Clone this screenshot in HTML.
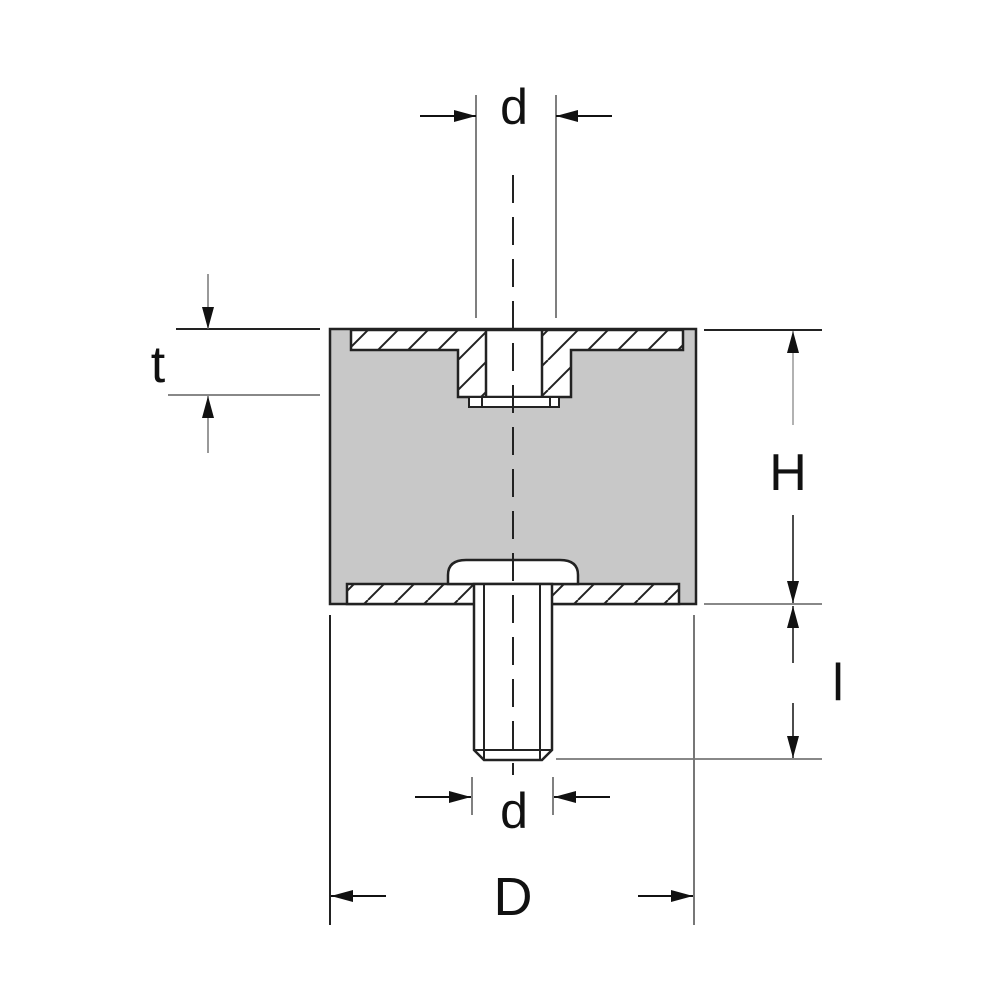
<!DOCTYPE html>
<html><head><meta charset="utf-8"><style>html,body{margin:0;padding:0;background:#fff}svg{display:block}</style></head>
<body>
<svg width="1000" height="1000" viewBox="0 0 1000 1000" xmlns="http://www.w3.org/2000/svg">
<defs>
<pattern id="h" patternUnits="userSpaceOnUse" width="30" height="30" patternTransform="translate(8,0)">
<line x1="0" y1="30" x2="30" y2="0" stroke="#222" stroke-width="2"/>
<line x1="-30" y1="30" x2="0" y2="0" stroke="#222" stroke-width="2"/>
<line x1="30" y1="30" x2="60" y2="0" stroke="#222" stroke-width="2"/>
</pattern>
<marker id="a" markerWidth="22" markerHeight="12" refX="22" refY="6" orient="auto" markerUnits="userSpaceOnUse">
<path d="M0,0 L22,6 L0,12 Z" fill="#111"/>
</marker>
</defs>
<!-- body -->
<rect x="330" y="329" width="366" height="275" fill="#c8c8c8" stroke="#222" stroke-width="2.5"/>
<!-- top plate + boss -->
<path d="M351,330 L683,330 L683,350 L571,350 L571,397 L458,397 L458,350 L351,350 Z" fill="#fff"/>
<path d="M351,330 L683,330 L683,350 L571,350 L571,397 L458,397 L458,350 L351,350 Z" fill="url(#h)" stroke="#222" stroke-width="2.5"/>
<rect x="486" y="330" width="56" height="67" fill="#fff" stroke="#222" stroke-width="2.5"/>
<rect x="469" y="397" width="90" height="10" fill="#fff" stroke="#222" stroke-width="2"/>
<line x1="482" y1="397" x2="482" y2="407" stroke="#222" stroke-width="2"/>
<line x1="550" y1="397" x2="550" y2="407" stroke="#222" stroke-width="2"/>
<!-- bottom plate -->
<rect x="347" y="584" width="332" height="20" fill="#fff"/>
<rect x="347" y="584" width="332" height="20" fill="url(#h)" stroke="#222" stroke-width="2.5"/>
<!-- screw head -->
<path d="M448,584 L448,575 Q448,560 466,560 L560,560 Q578,560 578,575 L578,584 Z" fill="#fff" stroke="#222" stroke-width="2.5"/>
<!-- bolt -->
<path d="M474,584 L474,750 L484,760 L542,760 L552,750 L552,584 Z" fill="#fff" stroke="#222" stroke-width="2.5"/>
<line x1="484" y1="584" x2="484" y2="760" stroke="#222" stroke-width="2"/>
<line x1="540" y1="584" x2="540" y2="760" stroke="#222" stroke-width="2"/>
<line x1="474" y1="750" x2="552" y2="750" stroke="#222" stroke-width="2"/>
<!-- centerline -->
<line x1="513" y1="175" x2="513" y2="775" stroke="#222" stroke-width="2" stroke-dasharray="28,14"/>
<!-- top d -->
<line x1="476" y1="95" x2="476" y2="318" stroke="#555" stroke-width="1.5"/>
<line x1="556" y1="95" x2="556" y2="318" stroke="#555" stroke-width="1.5"/>
<line x1="420" y1="116" x2="476" y2="116" stroke="#111" stroke-width="2" marker-end="url(#a)"/>
<line x1="612" y1="116" x2="556" y2="116" stroke="#111" stroke-width="2" marker-end="url(#a)"/>
<text x="514" y="124" font-family="Liberation Sans, sans-serif" font-size="50" text-anchor="middle" fill="#111">d</text>
<!-- t -->
<line x1="176" y1="329" x2="320" y2="329" stroke="#222" stroke-width="2"/>
<line x1="168" y1="395" x2="320" y2="395" stroke="#888" stroke-width="2"/>
<line x1="208" y1="274" x2="208" y2="329" stroke="#777" stroke-width="1.5" marker-end="url(#a)"/>
<line x1="208" y1="453" x2="208" y2="396" stroke="#777" stroke-width="1.5" marker-end="url(#a)"/>
<text x="158" y="382" font-family="Liberation Sans, sans-serif" font-size="52" text-anchor="middle" fill="#111">t</text>
<!-- H -->
<line x1="704" y1="330" x2="822" y2="330" stroke="#222" stroke-width="2"/>
<line x1="704" y1="604" x2="822" y2="604" stroke="#888" stroke-width="2"/>
<line x1="704" y1="759" x2="822" y2="759" stroke="#888" stroke-width="2"/>
<line x1="556" y1="759" x2="704" y2="759" stroke="#888" stroke-width="2"/>
<line x1="793" y1="425" x2="793" y2="331" stroke="#999" stroke-width="1.5" marker-end="url(#a)"/>
<line x1="793" y1="515" x2="793" y2="603" stroke="#111" stroke-width="1.5" marker-end="url(#a)"/>
<line x1="793" y1="663" x2="793" y2="606" stroke="#111" stroke-width="1.5" marker-end="url(#a)"/>
<line x1="793" y1="703" x2="793" y2="758" stroke="#111" stroke-width="1.5" marker-end="url(#a)"/>
<text x="788" y="490" font-family="Liberation Sans, sans-serif" font-size="52" text-anchor="middle" fill="#111">H</text>
<text x="838" y="700" font-family="Liberation Sans, sans-serif" font-size="52" text-anchor="middle" fill="#111">l</text>
<!-- bottom d -->
<line x1="472" y1="777" x2="472" y2="815" stroke="#555" stroke-width="1.5"/>
<line x1="553" y1="777" x2="553" y2="815" stroke="#555" stroke-width="1.5"/>
<line x1="415" y1="797" x2="471" y2="797" stroke="#111" stroke-width="2" marker-end="url(#a)"/>
<line x1="610" y1="797" x2="554" y2="797" stroke="#111" stroke-width="2" marker-end="url(#a)"/>
<text x="514" y="828" font-family="Liberation Sans, sans-serif" font-size="50" text-anchor="middle" fill="#111">d</text>
<!-- D -->
<line x1="330" y1="615" x2="330" y2="925" stroke="#222" stroke-width="2"/>
<line x1="694" y1="615" x2="694" y2="925" stroke="#777" stroke-width="2"/>
<line x1="386" y1="896" x2="331" y2="896" stroke="#111" stroke-width="2" marker-end="url(#a)"/>
<line x1="638" y1="896" x2="693" y2="896" stroke="#111" stroke-width="2" marker-end="url(#a)"/>
<text x="513" y="915" font-family="Liberation Sans, sans-serif" font-size="54" text-anchor="middle" fill="#111">D</text>
</svg>
</body></html>
